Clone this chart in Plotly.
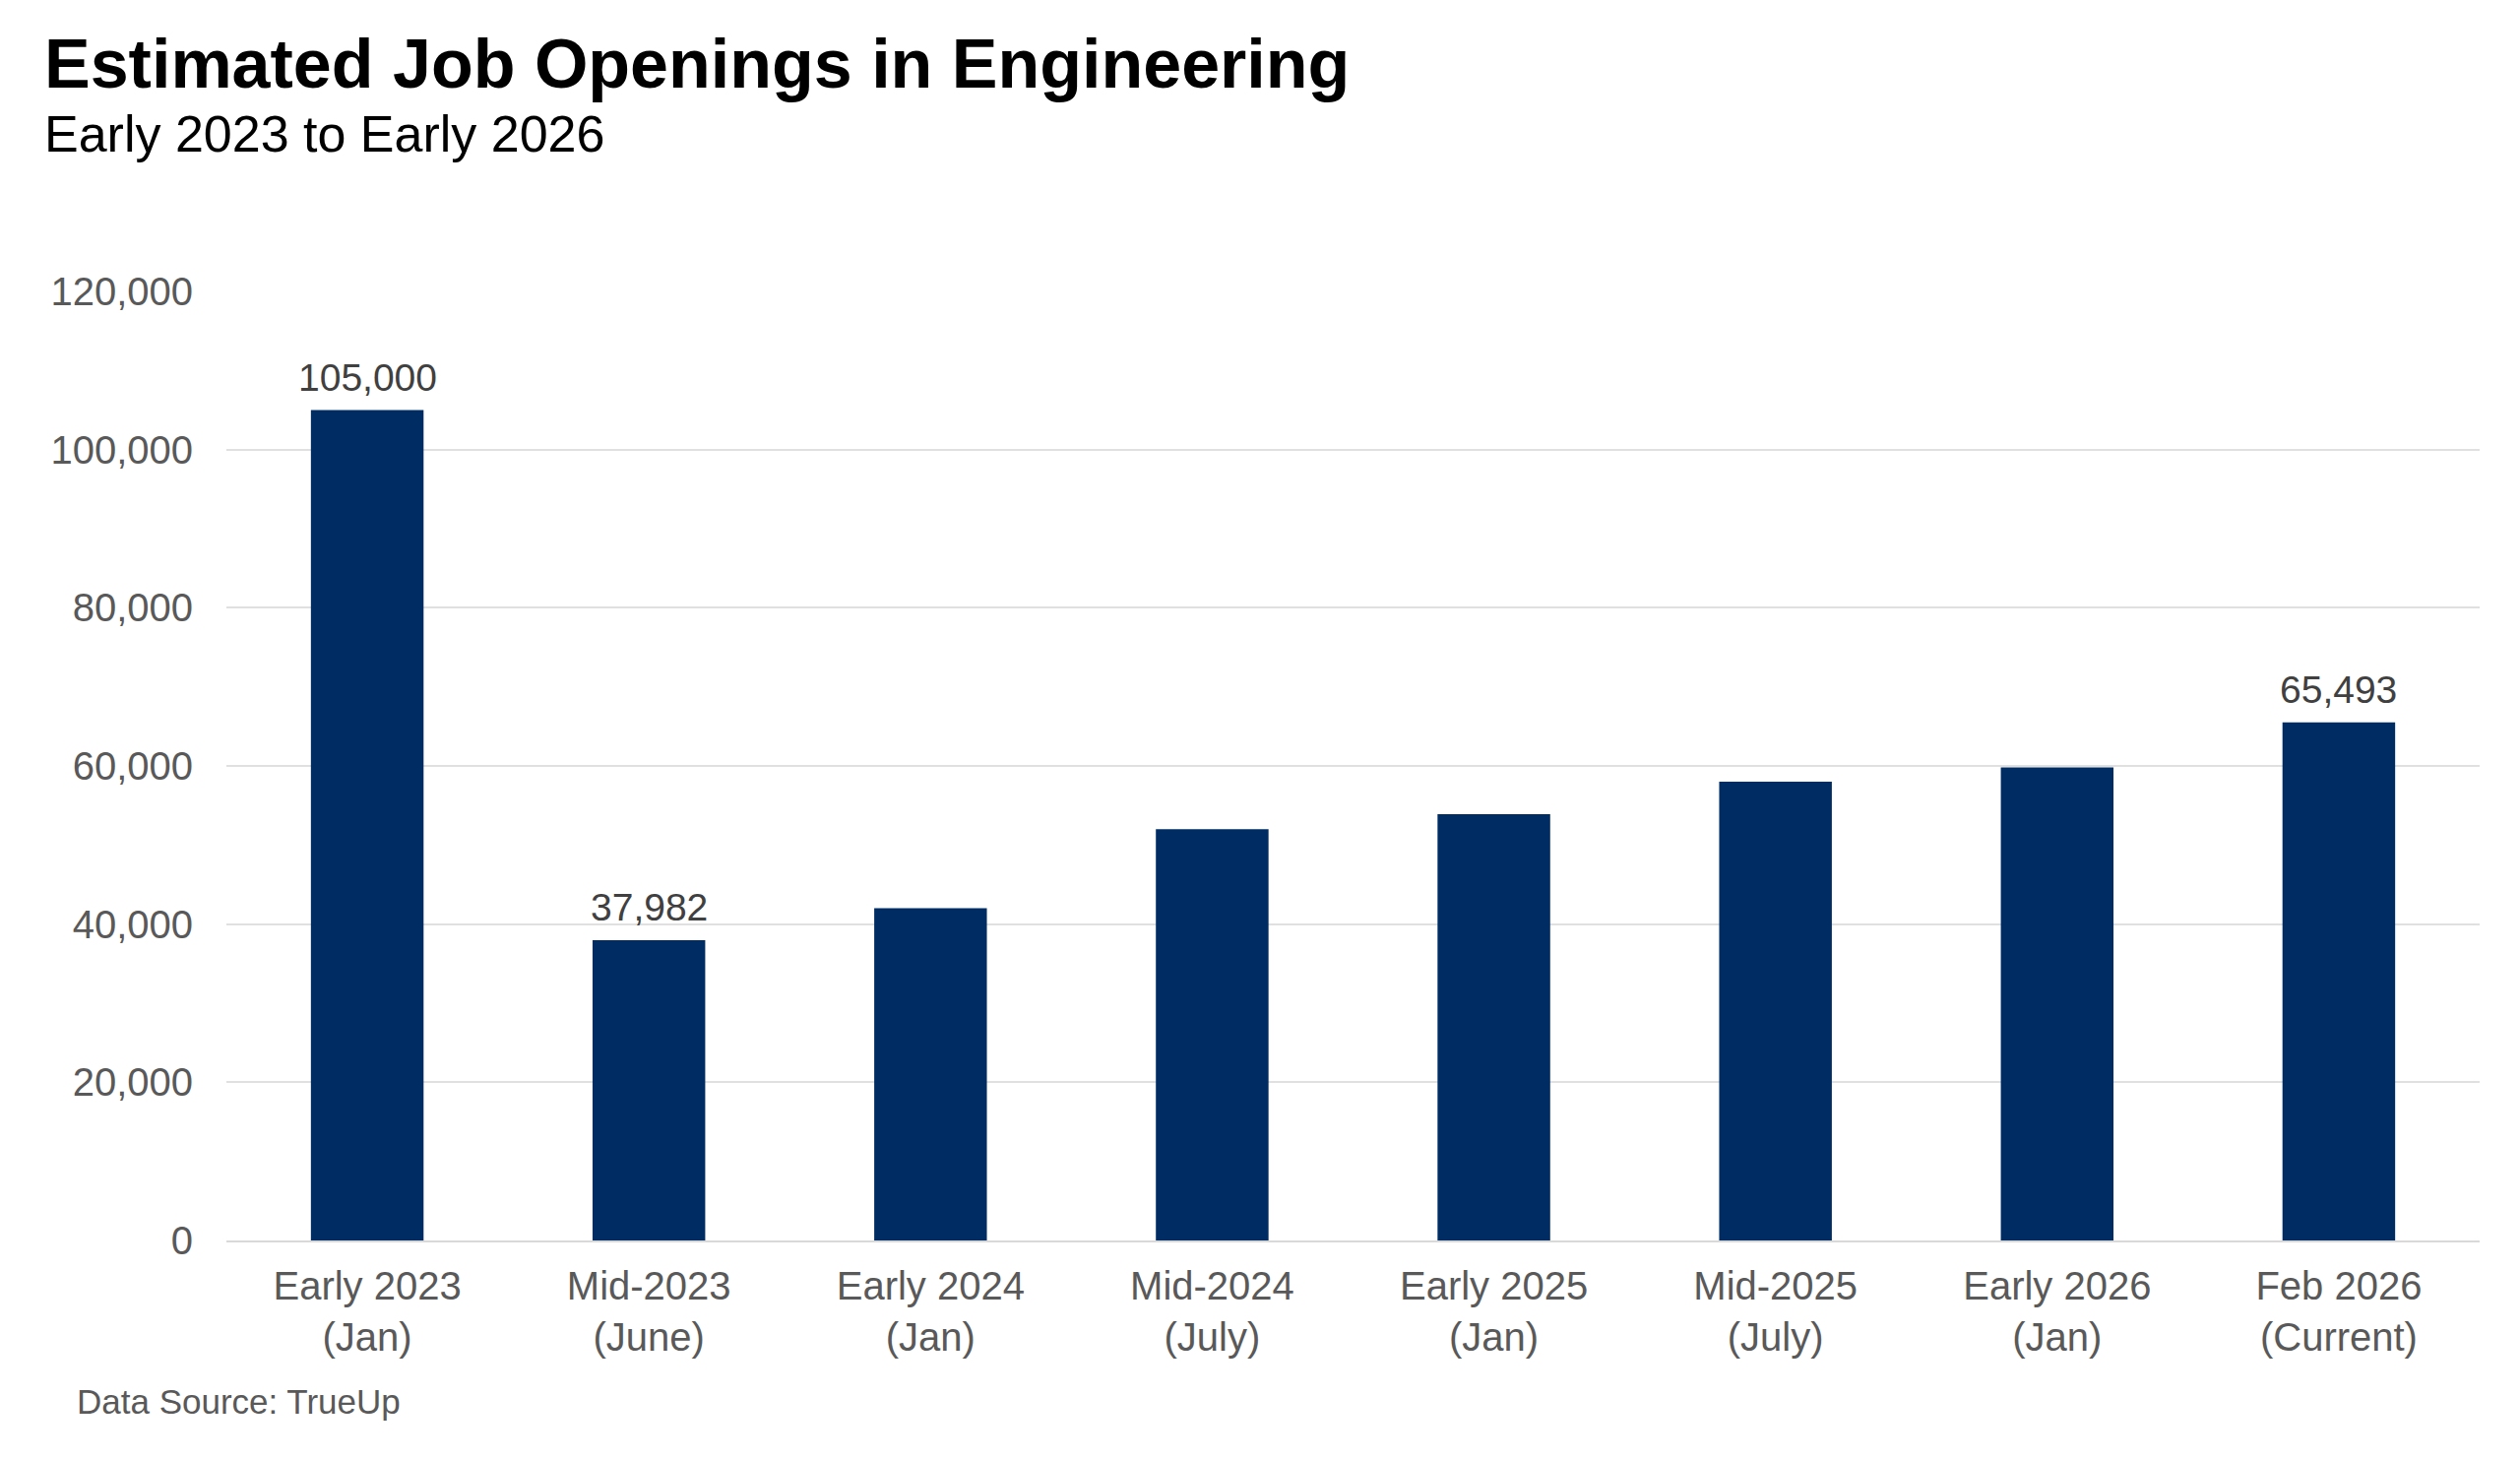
import plotly.graph_objects as go

categories = ["Early 2023<br>(Jan)", "Mid-2023<br>(June)", "Early 2024<br>(Jan)", "Mid-2024<br>(July)",
              "Early 2025<br>(Jan)", "Mid-2025<br>(July)", "Early 2026<br>(Jan)", "Feb 2026<br>(Current)"]
openings = [105000, 37982, 42000, 52000, 53900, 58000, 59800, 65493]
label_flags = [True, True, False, False, False, False, False, True]
y_ticks = [0, 20000, 40000, 60000, 80000, 100000, 120000]

title_text = "Estimated Job Openings in Engineering"
subtitle_text = "Early 2023 to Early 2026"
source_text = "Data Source: TrueUp"

FONT = "Arial, Liberation Sans, Helvetica, sans-serif"

fig = go.Figure(go.Bar(
    x=categories, y=openings,
    marker=dict(color="#002C64", line=dict(width=0)),
    hoverinfo="x+y",
))

value_labels = [
    dict(text=f"{v:,}", x=c, y=v, xref="x", yref="y", xanchor="center", yanchor="bottom",
         yshift=10, showarrow=False, font=dict(family=FONT, size=39, color="#404040"))
    for c, v, f in zip(categories, openings, label_flags) if f
]

fig.update_layout(
    width=2552, height=1475,
    margin=dict(l=222, r=41, t=288, b=223, pad=0),
    paper_bgcolor="white", plot_bgcolor="white",
    bargap=0.6, showlegend=False,
    font=dict(family=FONT),
    xaxis=dict(showgrid=False, showline=True, linecolor="#D9D9D9", linewidth=2,
               ticks="", ticklabelstandoff=10,
               tickfont=dict(family=FONT, size=40, color="#595959")),
    yaxis=dict(range=[0, 120000], tickvals=y_ticks, ticktext=[f"{t:,}" for t in y_ticks],
               showgrid=True, gridcolor="#E0E0E0", gridwidth=1.5, zeroline=False,
               showline=False, ticks="", ticklabelstandoff=33,
               tickfont=dict(family=FONT, size=40, color="#595959")),
    annotations=value_labels + [
        dict(text=f"<b>{title_text}</b>", xref="paper", yref="paper", x=-0.0817, y=1.2396,
             xanchor="left", yanchor="middle", showarrow=False,
             font=dict(family=FONT, size=70, color="#000000")),
        dict(text=subtitle_text, xref="paper", yref="paper", x=-0.0817, y=1.1655,
             xanchor="left", yanchor="middle", showarrow=False,
             font=dict(family=FONT, size=52, color="#000000")),
        dict(text=source_text, xref="paper", yref="paper", x=-0.0673, y=-0.1701,
             xanchor="left", yanchor="middle", showarrow=False,
             font=dict(family=FONT, size=35, color="#595959")),
    ],
)

fig.write_html("out.html")
